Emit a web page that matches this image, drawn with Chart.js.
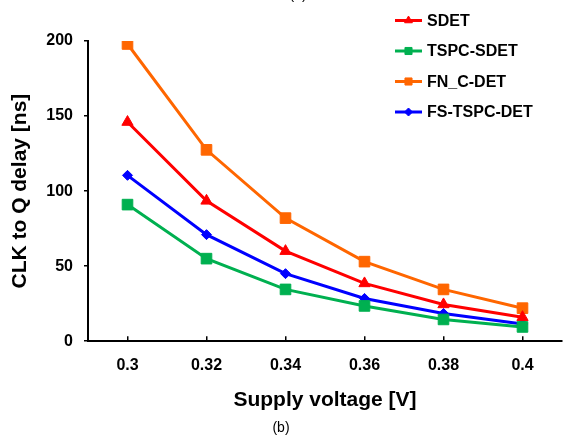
<!DOCTYPE html>
<html>
<head>
<meta charset="utf-8">
<script src="https://cdn.jsdelivr.net/npm/chart.js@4"></script>
<style>
  html, body { margin: 0; padding: 0; background: #fff; }
  #wrap { width: 564px; height: 437px; }
</style>
</head>
<body>
<div id="wrap"><canvas id="delayChart" width="564" height="437"></canvas></div>
<script>
// Datos
const voltages = ['0.3', '0.32', '0.34', '0.36', '0.38', '0.4'];
const sdet = [146, 93.5, 60, 38.5, 24.5, 16];
const tspcSdet = [91, 55, 34.5, 23.5, 14.5, 9.5];
const fnCDet = [198, 127.5, 82, 53, 34.5, 22];
const fsTspcDet = [110.5, 71, 45, 28.5, 18.5, 11.5];
const yTicks = [0, 50, 100, 150, 200];

const FONT = "Arial, 'Liberation Sans', sans-serif";

// Leyenda vertical arriba a la derecha
const legendPlugin = {
    id: 'sideLegend',
    afterDraw(chart) {
        const ctx = chart.ctx;
        const rows = [20.5, 51, 81.5, 112];
        ctx.save();
        chart.data.datasets.forEach(function(ds, i) {
            const y = rows[i];
            ctx.strokeStyle = ds.borderColor;
            ctx.lineWidth = 3;
            ctx.beginPath();
            ctx.moveTo(395, y);
            ctx.lineTo(422, y);
            ctx.stroke();
            ctx.fillStyle = ds.borderColor;
            ctx.strokeStyle = ds.borderColor;
            ctx.lineWidth = 1;
            Chart.helpers.drawPoint(ctx, { pointStyle: ds.pointStyle, radius: ds.legendRadius, borderWidth: 1 }, 408.5, y);
            ctx.fillStyle = '#000';
            ctx.font = 'bold 16px ' + FONT;
            ctx.textBaseline = 'middle';
            ctx.textAlign = 'left';
            ctx.fillText(ds.label, 427, y + 1);
        });
        // "(a)" cortado en el borde superior
        ctx.font = '14px ' + FONT;
        ctx.textAlign = 'center';
        ctx.textBaseline = 'middle';
        ctx.fillText('(a)', 298, -5);
        ctx.restore();
    }
};

document.addEventListener('DOMContentLoaded', function() {
    const ctx = document.getElementById('delayChart').getContext('2d');
    new Chart(ctx, {
        type: 'line',
        data: {
            labels: voltages,
            datasets: [{
                label: 'SDET',
                data: sdet,
                borderColor: '#FF0000',
                backgroundColor: '#FF0000',
                pointStyle: 'triangle',
                pointRadius: 6.5,
                legendRadius: 4.5
            }, {
                label: 'TSPC-SDET',
                data: tspcSdet,
                borderColor: '#00B050',
                backgroundColor: '#00B050',
                pointStyle: 'rect',
                pointRadius: 7.5,
                legendRadius: 5
            }, {
                label: 'FN_C-DET',
                data: fnCDet,
                borderColor: '#FF6600',
                backgroundColor: '#FF6600',
                pointStyle: 'rect',
                pointRadius: 7.5,
                legendRadius: 5
            }, {
                label: 'FS-TSPC-DET',
                data: fsTspcDet,
                borderColor: '#0000FF',
                backgroundColor: '#0000FF',
                pointStyle: 'rectRot',
                pointRadius: 5,
                legendRadius: 4
            }]
        },
        options: {
            responsive: false,
            animation: false,
            elements: {
                line: { borderWidth: 3, tension: 0 },
                point: { borderWidth: 1, hoverRadius: 6 }
            },
            layout: {
                autoPadding: false,
                padding: { left: 0, right: 2, top: 41, bottom: 0 }
            },
            scales: {
                x: {
                    type: 'category',
                    offset: true,
                    grid: {
                        offset: false,
                        drawOnChartArea: false,
                        tickLength: -5,
                        color: '#000',
                        lineWidth: 1.5
                    },
                    border: { color: '#000', width: 2 },
                    ticks: {
                        color: '#000',
                        padding: 20,
                        maxRotation: 0,
                        font: { family: FONT, size: 16, weight: 'bold' }
                    },
                    title: {
                        display: true,
                        text: 'Supply voltage [V]',
                        color: '#000',
                        padding: { top: 0, bottom: 7 },
                        font: { family: FONT, size: 21, weight: 'bold' }
                    },
                    afterFit: function(scale) {
                        scale.height = 79;
                        scale.paddingLeft = 0;
                        scale.paddingRight = 0;
                    }
                },
                y: {
                    min: 0,
                    max: 200,
                    afterBuildTicks: function(scale) {
                        scale.ticks = yTicks.map(function(v) { return { value: v }; });
                    },
                    grid: {
                        drawOnChartArea: false,
                        tickLength: 4,
                        color: '#000',
                        lineWidth: 1.5
                    },
                    border: { color: '#000', width: 2 },
                    ticks: {
                        color: '#000',
                        padding: 11,
                        font: { family: FONT, size: 16, weight: 'bold' }
                    },
                    title: {
                        display: true,
                        text: 'CLK to Q delay [ns]',
                        color: '#000',
                        padding: { top: 8, bottom: 0 },
                        font: { family: FONT, size: 21, weight: 'bold' }
                    },
                    afterFit: function(scale) { scale.width = 88; }
                }
            },
            plugins: {
                legend: { display: false },
                tooltip: { enabled: false },
                title: {
                    display: true,
                    position: 'bottom',
                    text: '(b)',
                    color: '#000',
                    padding: { top: 0, bottom: 0 },
                    font: { family: FONT, size: 14, weight: 'normal' }
                }
            }
        },
        plugins: [legendPlugin]
    });
});
</script>
</body>
</html>
